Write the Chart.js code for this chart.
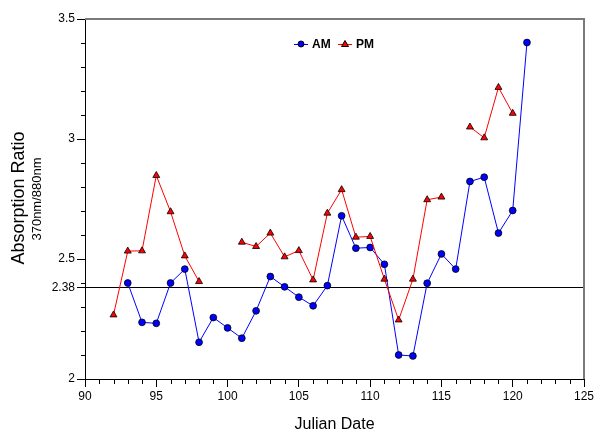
<!DOCTYPE html>
<html>
<head>
<meta charset="utf-8">
<script src="https://cdn.jsdelivr.net/npm/chart.js@4.4.1/dist/chart.umd.min.js"></script>
<style>
  html, body { margin: 0; padding: 0; background: #fff; }
  #wrap { width: 598px; height: 433px; }
</style>
</head>
<body>
<div id="wrap"><canvas id="absChart" width="598" height="433"></canvas></div>
<script>
// ===== datos =====
const julianDays = [92, 93, 94, 95, 96, 97, 98, 99, 100, 101, 102, 103, 104, 105, 106,
                    107, 108, 109, 110, 111, 112, 113, 114, 115, 116, 117, 118, 119, 120, 121];
const amRatio = [null, 2.400, 2.236, 2.232, 2.400, 2.458, 2.153, 2.256, 2.213, 2.170, 2.284, 2.427, 2.384, 2.341, 2.305,
                 2.389, 2.680, 2.545, 2.548, 2.478, 2.100, 2.096, 2.399, 2.521, 2.458, 2.823, 2.841, 2.608, 2.702, 3.402];
const pmRatio = [2.267, 2.533, 2.534, 2.848, 2.697, 2.513, 2.406, null, null, 2.570, 2.552, 2.608, 2.509, 2.535, 2.413,
                 2.691, 2.789, 2.591, 2.594, 2.416, 2.246, 2.416, 2.747, 2.758, null, 3.050, 3.005, 3.215, 3.107, null];
const yTickValues = [2, 2.38, 2.5, 3, 3.5];
const thresholdValue = 2.38;

const FONT = 'Arial, "Liberation Sans", sans-serif';

function toPoints(values) {
    return julianDays.map((d, i) => ({ x: d, y: values[i] }));
}

// ticks menores, bordes, títulos y leyenda dentro del área
const decorPlugin = {
    id: 'decor',
    afterDraw(chart) {
        const ctx = chart.ctx;
        const area = chart.chartArea;
        const xs = chart.scales.x;
        const ys = chart.scales.y;
        ctx.save();

        // caja gris arriba y a la derecha
        ctx.strokeStyle = '#7a7a7a';
        ctx.lineWidth = 2;
        ctx.beginPath();
        ctx.moveTo(area.left, area.top);
        ctx.lineTo(area.right, area.top);
        ctx.lineTo(area.right, area.bottom);
        ctx.stroke();

        // ticks menores
        ctx.strokeStyle = '#000';
        ctx.lineWidth = 1;
        ctx.beginPath();
        for (let v = 91; v < 125; v++) {
            if (v % 5 === 0) continue;
            const px = Math.round(xs.getPixelForValue(v)) + 0.5;
            ctx.moveTo(px, area.bottom);
            ctx.lineTo(px, area.bottom + 5);
        }
        for (let k = 21; k < 35; k++) {
            if (k % 5 === 0) continue;
            const py = Math.round(ys.getPixelForValue(k / 10)) + 0.5;
            ctx.moveTo(area.left - 4, py);
            ctx.lineTo(area.left, py);
        }
        ctx.stroke();

        // títulos de ejes
        ctx.fillStyle = '#000';
        ctx.textAlign = 'center';
        ctx.textBaseline = 'middle';
        ctx.font = '16px ' + FONT;
        ctx.fillText('Julian Date', (area.left + area.right) / 2, 425);

        ctx.save();
        ctx.translate(19, 198);
        ctx.rotate(-Math.PI / 2);
        ctx.font = '18px ' + FONT;
        ctx.fillText('Absorption Ratio', 0, 0);
        ctx.restore();

        ctx.save();
        ctx.translate(37, 199);
        ctx.rotate(-Math.PI / 2);
        ctx.font = '13px ' + FONT;
        ctx.fillText('370nm/880nm', 0, 0);
        ctx.restore();

        // leyenda
        const items = [
            { ds: chart.data.datasets[0], cx: 301, tx: 312 },
            { ds: chart.data.datasets[1], cx: 345, tx: 356 }
        ];
        const ly = 44;
        ctx.font = 'bold 12px ' + FONT;
        ctx.textAlign = 'left';
        items.forEach(it => {
            ctx.strokeStyle = it.ds.borderColor;
            ctx.lineWidth = 1;
            ctx.beginPath();
            ctx.moveTo(it.cx - 7, ly + 0.5);
            ctx.lineTo(it.cx + 7, ly + 0.5);
            ctx.stroke();
            ctx.fillStyle = it.ds.pointBackgroundColor;
            ctx.strokeStyle = '#000';
            ctx.beginPath();
            if (it.ds.pointStyle === 'triangle') {
                ctx.moveTo(it.cx, ly - 3.5);
                ctx.lineTo(it.cx + 3.5, ly + 2.5);
                ctx.lineTo(it.cx - 3.5, ly + 2.5);
                ctx.closePath();
            } else {
                ctx.arc(it.cx, ly, 3, 0, Math.PI * 2);
            }
            ctx.fill();
            ctx.stroke();
            ctx.fillStyle = '#000';
            ctx.fillText(it.ds.label, it.tx, ly + 1);
        });

        ctx.restore();
    }
};

const chart = new Chart(document.getElementById('absChart').getContext('2d'), {
    type: 'line',
    data: {
        datasets: [
            {
                label: 'AM',
                data: toPoints(amRatio),
                borderColor: '#0000ff',
                borderWidth: 1,
                pointStyle: 'circle',
                pointRadius: 3.4,
                pointBackgroundColor: '#0000ff',
                pointBorderColor: '#000',
                pointBorderWidth: 0.8,
                tension: 0,
                spanGaps: false,
                order: 2
            },
            {
                label: 'PM',
                data: toPoints(pmRatio),
                borderColor: '#ff0000',
                borderWidth: 1,
                pointStyle: 'triangle',
                pointRadius: 4,
                pointBackgroundColor: '#ff0000',
                pointBorderColor: '#000',
                pointBorderWidth: 0.8,
                tension: 0,
                spanGaps: false,
                order: 1
            }
        ]
    },
    options: {
        responsive: false,
        animation: false,
        events: [],
        layout: { padding: { left: 0, top: 19, right: 14, bottom: 0 } },
        plugins: {
            legend: { display: false },
            title: { display: false },
            tooltip: { enabled: false }
        },
        scales: {
            x: {
                type: 'linear',
                min: 90,
                max: 125,
                ticks: {
                    stepSize: 5,
                    color: '#000',
                    padding: 2,
                    maxRotation: 0,
                    font: { family: FONT, size: 12 }
                },
                grid: {
                    drawOnChartArea: false,
                    tickLength: 8,
                    tickColor: '#000',
                    color: '#000'
                },
                border: { color: '#000', width: 1 },
                afterFit(scale) { scale.height = 54; }
            },
            y: {
                type: 'linear',
                min: 2,
                max: 3.5,
                afterBuildTicks(scale) {
                    scale.ticks = yTickValues.map(v => ({ value: v }));
                },
                ticks: {
                    color: '#000',
                    padding: 2,
                    font: { family: FONT, size: 12 },
                    callback: v => String(v)
                },
                grid: {
                    drawOnChartArea: true,
                    tickLength: 8,
                    tickColor: '#000',
                    lineWidth: 1,
                    color: ctx => (ctx.tick && ctx.tick.value === thresholdValue) ? '#000' : 'rgba(0,0,0,0)'
                },
                border: { color: '#000', width: 1 },
                afterFit(scale) { scale.width = 85; }
            }
        }
    },
    plugins: [decorPlugin]
});
</script>
</body>
</html>
